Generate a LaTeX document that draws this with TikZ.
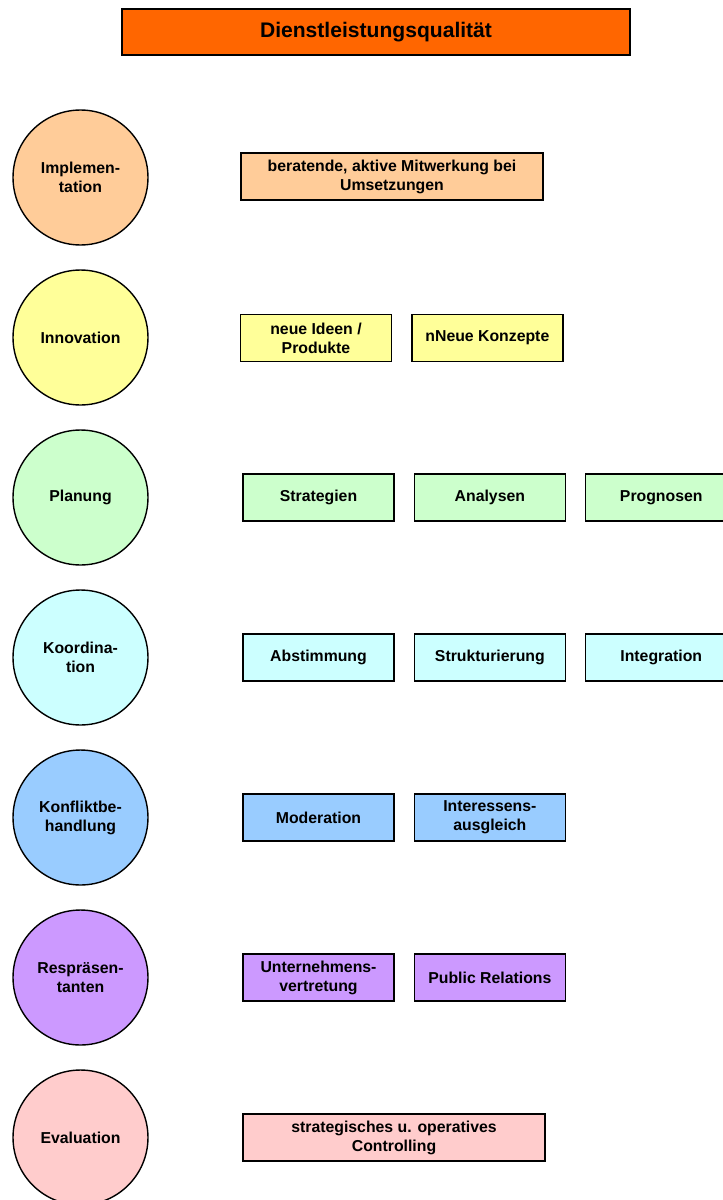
\documentclass[tikz,border=0pt]{standalone}
\usepackage{fontspec}
\setmainfont{Liberation Sans}
\usetikzlibrary{positioning}
\definecolor{titel}{HTML}{FF6600}
\definecolor{impl}{HTML}{FFCC99}
\definecolor{inno}{HTML}{FFFF99}
\definecolor{plan}{HTML}{CCFFCC}
\definecolor{koord}{HTML}{CCFFFF}
\definecolor{konfl}{HTML}{99CCFF}
\definecolor{repr}{HTML}{CC99FF}
\definecolor{eval}{HTML}{FFCCCC}
\tikzset{
  feld/.style={draw, line width=0.8pt, font=\fontsize{9}{10.8}\selectfont\bfseries,
    align=center, inner sep=0pt, minimum width=3.02cm, minimum height=0.94cm},
  breitfeld/.style={feld, minimum width=6.04cm},
  kreis/.style={draw, line width=0.8pt, circle, minimum size=2.7cm, inner sep=0pt,
    font=\fontsize{9}{10.8}\selectfont\bfseries, align=center},
}
\begin{document}
\begin{tikzpicture}[x=0.02cm, y=-0.02cm, node distance=0.38cm]
        \useasboundingbox (0,0) rectangle (723,1200);
        \clip (0,0) rectangle (723,1200);
        \node[draw, line width=0.8pt, fill=titel, minimum width=10.16cm, minimum height=0.92cm,
          font=\fontsize{12}{14}\selectfont\bfseries] (titel) at (376,32) {Dienstleistungsqualität};
        % Implementation
        \node[kreis, fill=impl] (impl) at (80.5,177.5) {Implemen-\\tation};
        \node[breitfeld, fill=impl] (umsetz) at (392,176.5) {beratende, aktive Mitwerkung bei\\Umsetzungen};
        % Innovation
        \node[kreis, fill=inno] (inno) at (80.5,337.5) {Innovation};
        \node[feld, fill=inno] (ideen) at (316,338) {neue Ideen /\\Produkte};
        \node[feld, fill=inno, right=of ideen] (konzepte) {nNeue Konzepte};
        % Planung
        \node[kreis, fill=plan] (plan) at (80.5,497.5) {Planung};
        \node[feld, fill=plan] (strat) at (318.5,497.5) {Strategien};
        \node[feld, fill=plan, right=of strat] (analy) {Analysen};
        \node[feld, fill=plan, right=of analy] (progn) {Prognosen};
        % Koordination
        \node[kreis, fill=koord] (koord) at (80.5,657.5) {Koordina-\\tion};
        \node[feld, fill=koord] (abst) at (318.5,657.5) {Abstimmung};
        \node[feld, fill=koord, right=of abst] (strukt) {Strukturierung};
        \node[feld, fill=koord, right=of strukt] (integ) {Integration};
        % Konfliktbehandlung
        \node[kreis, fill=konfl] (konfl) at (80.5,817.5) {Konfliktbe-\\handlung};
        \node[feld, fill=konfl] (moder) at (318.5,817.5) {Moderation};
        \node[feld, fill=konfl, right=of moder] (ausgl) {Interessens-\\ausgleich};
        % Repraesentanten
        \node[kreis, fill=repr] (repr) at (80.5,977.5) {Respräsen-\\tanten};
        \node[feld, fill=repr] (vertr) at (318.5,977.5) {Unternehmens-\\vertretung};
        \node[feld, fill=repr, right=of vertr] (pr) {Public Relations};
        % Evaluation
        \node[kreis, fill=eval] (eval) at (80.5,1137.5) {Evaluation};
        \node[breitfeld, fill=eval] (contr) at (394,1137.5) {strategisches u. operatives\\Controlling};
\end{tikzpicture}
\end{document}
